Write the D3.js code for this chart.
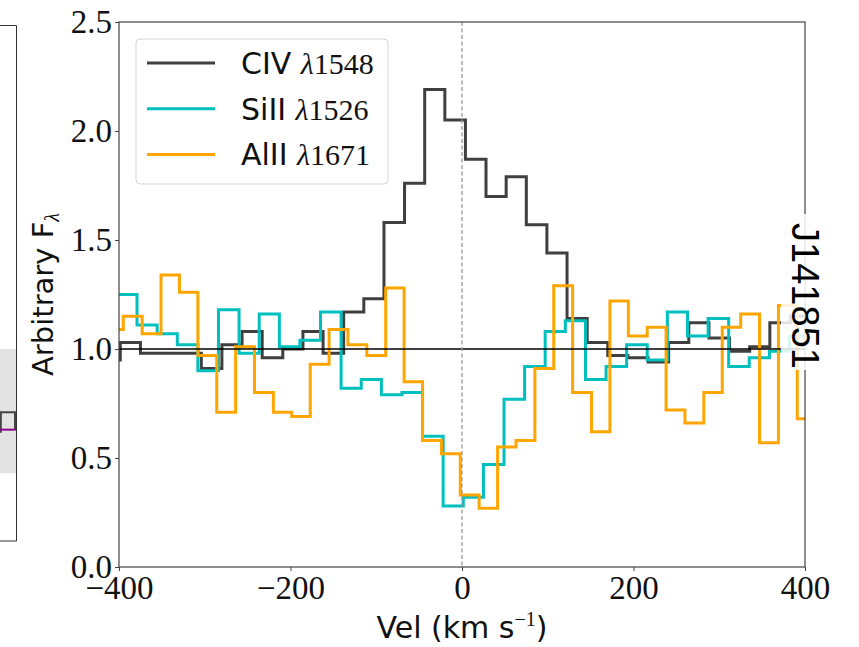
<!DOCTYPE html>
<html>
<head>
<meta charset="utf-8">
<script src="https://cdn.jsdelivr.net/npm/d3@7"></script>
<style>
  body { margin: 0; background: #fff; }
  svg { display: block; }
</style>
</head>
<body>
<svg id="chart" width="859" height="647"></svg>
<script>
// Velocity bin centres (km/s) and normalised flux per transition
const civVel  = [-410, -387, -363, -339, -316, -292, -268, -245, -221, -197, -174, -150, -126, -103, -79, -55, -32, -8, 16, 40, 63, 87, 111, 134, 158, 182, 205, 229, 253, 276, 300, 324, 347, 371, 395, 418];
const civFlux = [0.95, 1.03, 0.98, 0.98, 0.98, 0.91, 1.02, 1.08, 0.96, 1.00, 1.08, 0.98, 1.17, 1.23, 1.58, 1.76, 2.19, 2.05, 1.87, 1.70, 1.79, 1.57, 1.44, 1.14, 1.03, 0.97, 0.96, 0.94, 1.03, 1.12, 1.05, 0.99, 1.01, 1.12, 1.15, 1.15];

const siiiVel  = [-415, -391, -367, -344, -320, -296, -272, -248, -225, -201, -177, -153, -129, -106, -82, -58, -34, -10, 13, 37, 61, 85, 109, 132, 156, 180, 204, 228, 251, 275, 299, 323, 347, 370, 394, 418];
const siiiFlux = [1.25, 1.25, 1.11, 1.07, 1.02, 0.90, 1.18, 0.98, 1.16, 1.01, 1.04, 1.17, 0.82, 0.86, 0.79, 0.80, 0.60, 0.28, 0.32, 0.47, 0.77, 0.92, 1.08, 1.13, 0.86, 0.92, 1.02, 0.95, 1.17, 1.06, 1.14, 0.92, 0.96, 0.99, 1.06, 1.06];

const aliiVel  = [-406, -384, -362, -340, -319, -297, -275, -253, -231, -209, -188, -166, -144, -122, -100, -78, -57, -35, -13, 9, 31, 52, 74, 96, 118, 140, 162, 183, 205, 227, 249, 271, 293, 314, 336, 358, 380, 402, 424];
const aliiFlux = [1.09, 1.15, 1.07, 1.34, 1.26, 0.97, 0.71, 1.01, 0.80, 0.71, 0.69, 0.93, 1.09, 1.02, 0.97, 1.28, 0.85, 0.58, 0.52, 0.33, 0.27, 0.55, 0.58, 0.91, 1.29, 0.80, 0.62, 1.22, 1.06, 1.10, 0.72, 0.66, 0.80, 1.10, 1.16, 0.57, 1.20, 0.68, 0.68];

const xTicks = [-400, -200, 0, 200, 400];
const xTickLabels = ["\u2212400", "\u2212200", "0", "200", "400"];
const yTicks = [0, 0.5, 1.0, 1.5, 2.0, 2.5];
const yTickLabels = ["0.0", "0.5", "1.0", "1.5", "2.0", "2.5"];
const continuumLevel = 1.0;
const systemicVel = 0;
const objectName = "J141851";

// Edge of the neighbouring panel (shared flux scale)
const nbBand = [0.43, 1.0];
const nbModel = 0.63;
const nbFlux = 0.71;

const seriesList = [
  { ion: "CIV",  wave: "1548", vel: civVel,  flux: civFlux,  color: "#3f3f3f" },
  { ion: "SiII", wave: "1526", vel: siiiVel, flux: siiiFlux, color: "#00bfbf" },
  { ion: "AlII", wave: "1671", vel: aliiVel, flux: aliiFlux, color: "#ffa500" }
];

const SANS = "'DejaVu Sans', 'Liberation Sans', sans-serif";
const SERIF = "'Liberation Serif', 'Times New Roman', serif";

const svg = d3.select("#chart");
const plot = { left: 119, right: 805, top: 22, bottom: 567 };

const x = d3.scaleLinear().domain([-400, 400]).range([plot.left, plot.right]);
const y = d3.scaleLinear().domain([0, 2.5]).range([plot.bottom, plot.top]);

// ---- neighbouring panel fragment on the far left ----
const nb = svg.append("g");
const nbRight = 16.5;
nb.append("rect")
  .attr("x", 0).attr("width", nbRight)
  .attr("y", y(nbBand[1])).attr("height", y(nbBand[0]) - y(nbBand[1]))
  .attr("fill", "#e3e3e3");
nb.append("path")
  .attr("d", `M0.8,${y(nbModel) + 3}V${y(nbFlux)}H${nbRight - 1.5}V${y(nbModel)}`)
  .attr("fill", "none").attr("stroke", "#444").attr("stroke-width", 2);
nb.append("line")
  .attr("x1", 0).attr("x2", nbRight)
  .attr("y1", y(nbModel)).attr("y2", y(nbModel))
  .attr("stroke", "#8b008b").attr("stroke-width", 2);
nb.append("path")
  .attr("d", `M-2,25.5H${nbRight}V541H-2`)
  .attr("fill", "none").attr("stroke", "#333").attr("stroke-width", 1);

// ---- main panel ----
svg.append("defs").append("clipPath").attr("id", "plotClip")
  .append("rect")
  .attr("x", plot.left).attr("y", plot.top)
  .attr("width", plot.right - plot.left).attr("height", plot.bottom - plot.top);

const dataLayer = svg.append("g").attr("clip-path", "url(#plotClip)");

const stepLine = d3.line()
  .x(d => x(d[0]))
  .y(d => y(d[1]))
  .curve(d3.curveStep);

seriesList.forEach(s => {
  const pts = s.vel.map((v, i) => [v, s.flux[i]]);
  dataLayer.append("path")
    .datum(pts)
    .attr("d", stepLine)
    .attr("fill", "none")
    .attr("stroke", s.color)
    .attr("stroke-width", 3)
    .attr("stroke-linejoin", "miter");
});

// continuum level and systemic velocity
dataLayer.append("line")
  .attr("x1", x(-400)).attr("x2", x(400))
  .attr("y1", y(continuumLevel)).attr("y2", y(continuumLevel))
  .attr("stroke", "#000").attr("stroke-width", 1.4);
dataLayer.append("line")
  .attr("x1", x(systemicVel)).attr("x2", x(systemicVel))
  .attr("y1", plot.top).attr("y2", plot.bottom)
  .attr("stroke", "#999").attr("stroke-width", 1.3)
  .attr("stroke-dasharray", "4,2.5");

// axes
const xAxis = d3.axisBottom(x).tickValues(xTicks)
  .tickFormat((d, i) => xTickLabels[i]).tickSize(4).tickPadding(4);
const yAxis = d3.axisLeft(y).tickValues(yTicks)
  .tickFormat((d, i) => yTickLabels[i]).tickSize(4).tickPadding(3);

const gx = svg.append("g").attr("transform", `translate(0,${plot.bottom})`).call(xAxis);
const gy = svg.append("g").attr("transform", `translate(${plot.left},0)`).call(yAxis);
[gx, gy].forEach(g => {
  g.select(".domain").remove();
  g.selectAll(".tick line").attr("stroke", "#444").attr("stroke-width", 1);
  g.selectAll(".tick text")
    .attr("fill", "#111")
    .style("font-family", SERIF)
    .style("font-size", "33px");
});
gx.selectAll(".tick text").attr("dy", "0.72em");
gy.selectAll(".tick text").attr("dy", "0.33em");

// frame
svg.append("rect")
  .attr("x", plot.left).attr("y", plot.top)
  .attr("width", plot.right - plot.left).attr("height", plot.bottom - plot.top)
  .attr("fill", "none").attr("stroke", "#444").attr("stroke-width", 1.2);

// axis titles
const yTitle = svg.append("text")
  .attr("transform", `translate(53,${(plot.top + plot.bottom) / 2}) rotate(-90)`)
  .attr("text-anchor", "middle")
  .style("font-family", SANS).style("font-size", "29px").attr("fill", "#111");
yTitle.append("tspan").text("Arbitrary F");
yTitle.append("tspan").text("\u03bb").attr("dy", 6).style("font-family", SERIF)
  .style("font-style", "italic").style("font-size", "20px");

const xTitle = svg.append("text")
  .attr("x", x(0)).attr("y", 638)
  .attr("text-anchor", "middle")
  .style("font-family", SANS).style("font-size", "30px").attr("fill", "#111");
xTitle.append("tspan").text("Vel (km s");
xTitle.append("tspan").text("\u22121").attr("dy", -12).style("font-family", SERIF).style("font-size", "20px");
xTitle.append("tspan").text(")").attr("dy", 12);

// legend
const leg = svg.append("g");
leg.append("rect")
  .attr("x", 136).attr("y", 39).attr("width", 252).attr("height", 145)
  .attr("rx", 4).attr("fill", "#fff").attr("fill-opacity", 0.8)
  .attr("stroke", "#d5d5d5").attr("stroke-width", 1);
seriesList.forEach((s, i) => {
  const ly = 63 + i * 45.7;
  leg.append("line")
    .attr("x1", 147).attr("x2", 215).attr("y1", ly).attr("y2", ly)
    .attr("stroke", s.color).attr("stroke-width", 3);
  const t = leg.append("text")
    .attr("x", 241).attr("y", ly + 11)
    .style("font-size", "30px").attr("fill", "#111");
  t.append("tspan").text(s.ion + " ").style("font-family", SANS);
  t.append("tspan").text("\u03bb").style("font-family", SERIF).style("font-style", "italic");
  t.append("tspan").text(s.wave).style("font-family", SERIF);
});

// object name with its translucent box at the right edge
svg.append("rect")
  .attr("x", 781).attr("y", 214).attr("width", 50).attr("height", 156)
  .attr("fill", "#fff").attr("fill-opacity", 0.85);
svg.append("text")
  .attr("transform", `translate(792,296) rotate(90)`)
  .attr("text-anchor", "middle")
  .style("font-family", "'Liberation Sans', sans-serif").style("font-size", "38px").attr("fill", "#000")
  .text(objectName);
</script>
</body>
</html>
